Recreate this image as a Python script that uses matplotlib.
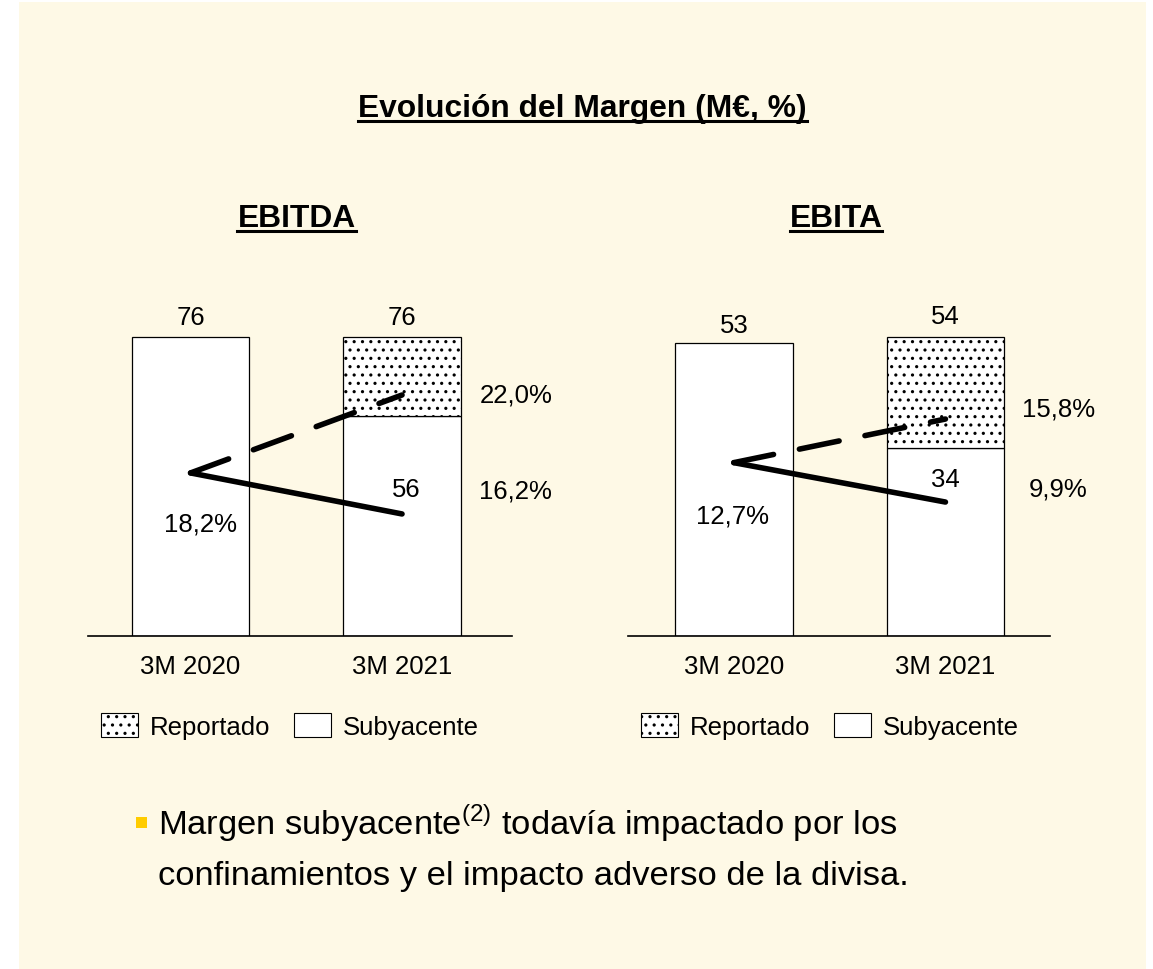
import numpy as np
import matplotlib
matplotlib.use("Agg")
import matplotlib.pyplot as plt
from matplotlib.patches import Patch, Rectangle
from matplotlib.lines import Line2D

plt.rcParams['font.family'] = ['Liberation Sans', 'DejaVu Sans']
plt.rcParams['mathtext.fontset'] = 'custom'
plt.rcParams['mathtext.rm'] = 'Liberation Sans'
plt.rcParams['hatch.linewidth'] = 1.1

# datos
periodos = ["3M 2020", "3M 2021"]
ebitda_total = [76, 76]
ebitda_subyacente = [76, 56]
ebitda_margen_rep = [18.2, 22.0]
ebitda_margen_sub = [18.2, 16.2]
ebita_total = [53, 54]
ebita_subyacente = [53, 34]
ebita_margen_rep = [12.7, 15.8]
ebita_margen_sub = [12.7, 9.9]

W, H = 1153, 970
CREMA = '#FEF9E6'
fig = plt.figure(figsize=(W / 100, H / 100), dpi=100)
fig.patch.set_facecolor('white')
fig.add_artist(Rectangle((19 / W, 0), (1146 - 19) / W, 967 / H,
                         transform=fig.transFigure, facecolor=CREMA,
                         edgecolor='none', zorder=-10))


def pct(v):
    return f"{v:.1f}".replace('.', ',') + '%'


def panel(left_px, right_px, xlim, ylim, mlim, total, sub, m_rep, m_sub, offs):
    ax = fig.add_axes([left_px / W, 1 - 637 / H, (right_px - left_px) / W, 337 / H])
    ax.set_facecolor('none')
    x = np.arange(len(periodos))
    total = np.array(total)
    sub = np.array(sub)
    ax.bar(x, sub, width=0.555, color='white', edgecolor='black', lw=0.9, zorder=2)
    diff = total - sub
    m = diff > 0
    ax.bar(x[m], diff[m], bottom=sub[m], width=0.555, color='white',
           edgecolor='black', lw=0.9, hatch='..', zorder=2)
    ax.set_xlim(*xlim)
    ax.set_ylim(*ylim)
    for s in ['top', 'right', 'left']:
        ax.spines[s].set_visible(False)
    ax.spines['bottom'].set_linewidth(1.2)
    ax.set_yticks([])
    ax.set_xticks(x)
    ax.set_xticklabels(periodos, fontsize=18.5)
    ax.tick_params(axis='x', length=0, pad=13)
    for xi, v, dy in zip(x, total, offs['top']):
        ax.annotate(f"{v:.0f}", (xi, v), xytext=(0, dy), textcoords='offset points',
                    ha='center', va='center', fontsize=18.5)
    ax.annotate(f"{sub[1]:.0f}", (1, sub[1]), xytext=offs['sub'], textcoords='offset points',
                ha='center', va='center', fontsize=18.5)

    tw = ax.twinx()
    tw.set_ylim(*mlim)
    tw.axis('off')
    tw.plot(x, m_sub, color='black', lw=4.0, solid_capstyle='round', zorder=5)
    tw.plot(x, m_rep, color='black', lw=4.0, dash_capstyle='round',
            linestyle=(0, (7.3, 4.75)), zorder=5)
    tw.annotate(pct(m_sub[0]), (0, m_sub[0]), xytext=offs['m0'], textcoords='offset points',
                ha='center', va='center', fontsize=18.5)
    tw.annotate(pct(m_rep[1]), (1, m_rep[1]), xytext=offs['rep'], textcoords='offset points',
                ha='center', va='center', fontsize=18.5, annotation_clip=False)
    tw.annotate(pct(m_sub[1]), (1, m_sub[1]), xytext=offs['msub'], textcoords='offset points',
                ha='center', va='center', fontsize=18.5, annotation_clip=False)

    handles = [Patch(facecolor='white', edgecolor='black', hatch='..', lw=0.8, label='Reportado'),
               Patch(facecolor='white', edgecolor='black', lw=0.8, label='Subyacente')]
    fig.legend(handles=handles, loc='center left',
               bbox_to_anchor=((left_px + 13) / W, 1 - 727 / H),
               ncol=2, frameon=False, fontsize=18.5, borderpad=0, borderaxespad=0,
               handlelength=1.44, handleheight=1.05, handletextpad=0.47,
               columnspacing=0.9)
    return ax


panel(88, 512, (-0.485, 1.52), (0, 85.75), (10.25, 26.68),
      ebitda_total, ebitda_subyacente, ebitda_margen_rep, ebitda_margen_sub,
      {'top': (14.5, 14.5), 'sub': (2.9, -52.6), 'm0': (6.8, -36.7),
       'rep': (82, 0.7), 'msub': (82, 16.6)})
panel(628, 1050, (-0.50, 1.494), (0, 60.9), (0.38, 24.33),
      ebita_total, ebita_subyacente, ebita_margen_rep, ebita_margen_sub,
      {'top': (12.5, 15.5), 'sub': (0, -22.3), 'm0': (-0.7, -38.2),
       'rep': (81.7, 7.9), 'msub': (81, 9.4)})

# titulos subrayados
titulos = [("Evolución del Margen (M€, %)", 582.5, 117),
           ("EBITDA", 296.5, 227),
           ("EBITA", 836, 227)]
objs = []
for txt, px, py in titulos:
    t = fig.text(px / W, 1 - py / H, txt, ha='center', va='baseline',
                 fontsize=22.9, fontweight='bold')
    objs.append((t, py))

# texto inferior
fig.add_artist(Rectangle((136 / W, 1 - 829 / H), 11 / W, 11 / H, transform=fig.transFigure,
                         facecolor='#FFCC00', edgecolor='none'))
fig.text(158 / W, 1 - 835 / H,
         r"Margen subyacente$^{\mathrm{(2)}}$ todavía impactado por los",
         ha='left', va='baseline', fontsize=24.8)
fig.text(158 / W, 1 - 885 / H, "confinamientos y el impacto adverso de la divisa.",
         ha='left', va='baseline', fontsize=24.8)

fig.canvas.draw()
r = fig.canvas.get_renderer()
for t, py in objs:
    bb = t.get_window_extent(r)
    yl = 1 - (py + 5) / H
    fig.add_artist(Line2D([bb.x0 / W, bb.x1 / W], [yl, yl], transform=fig.transFigure,
                          color='black', lw=2.2))

fig.savefig("out.png", dpi=100)
